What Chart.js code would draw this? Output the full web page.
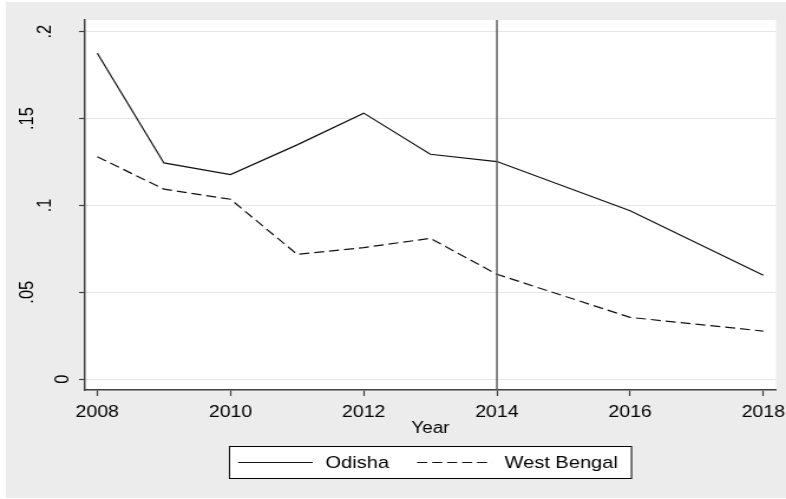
<!DOCTYPE html>
<html>
<head>
<meta charset="utf-8">
<script src="https://cdn.jsdelivr.net/npm/chart.js@4/dist/chart.umd.min.js"></script>
<style>
  html, body { margin: 0; padding: 0; background: #ffffff; overflow: hidden; }
  /* the graph is laid out narrower and widened to the page, giving the broad lettering */
  #wrap {
    position: absolute; left: 0; top: 0;
    width: 666px; height: 499px;
    transform: scaleX(1.18018); transform-origin: 0 0;
  }
</style>
</head>
<body>
<div id="wrap"><canvas id="chart"></canvas></div>
<script>
// Yearly values per state
const years = [2008, 2009, 2010, 2011, 2012, 2013, 2014, 2016, 2018];
const odisha = [0.1876, 0.1244, 0.1177, 0.1348, 0.1531, 0.1294, 0.1252, 0.0969, 0.0597];
const westBengal = [0.1280, 0.1093, 0.1035, 0.0718, 0.0757, 0.0810, 0.0603, 0.0355, 0.0276];
const seriesNames = ['Odisha', 'West Bengal'];

// Axes
const xTickValues = [2008, 2010, 2012, 2014, 2016, 2018];
const xTickLabels = ['2008', '2010', '2012', '2014', '2016', '2018'];
const yTickValues = [0, 0.05, 0.1, 0.15, 0.2];
const yTickLabels = ['0', '.05', '.1', '.15', '.2'];
const xAxisTitle = 'Year';
const markerYear = 2014;

const FONT = '"Liberation Sans", Arial, Helvetica, sans-serif';
const INK = '#000000';
const AXIS = '#404040';

const toPoints = (vals) => years.map((yr, i) => ({ x: yr, y: vals[i] }));

// Gray page with a white plot region
const backdrop = {
  id: 'backdrop',
  beforeDraw(chart) {
    const { ctx, width, height, chartArea: ca } = chart;
    ctx.save();
    ctx.fillStyle = '#ffffff';
    ctx.fillRect(0, 0, width, height);
    ctx.fillStyle = '#ececec';
    ctx.fillRect(5, 2, width - 5, height - 3);
    ctx.fillStyle = '#ffffff';
    ctx.fillRect(ca.left, ca.top, ca.right - ca.left, ca.bottom - ca.top);
    ctx.restore();
  }
};

// Vertical reference line at the marker year
const markerLine = {
  id: 'markerLine',
  afterDatasetsDraw(chart) {
    const { ctx, chartArea: ca, scales } = chart;
    const x = scales.x.getPixelForValue(markerYear);
    ctx.save();
    ctx.strokeStyle = '#555555';
    ctx.lineWidth = 1.4;
    ctx.beginPath();
    ctx.moveTo(x, ca.top);
    ctx.lineTo(x, ca.bottom);
    ctx.stroke();
    ctx.restore();
  }
};

// Vertical y tick labels, reading upward
const yLabels = {
  id: 'yLabels',
  afterDraw(chart) {
    const { ctx, scales } = chart;
    const y = scales.y;
    ctx.save();
    ctx.fillStyle = INK;
    ctx.font = '16.5px ' + FONT;
    ctx.textAlign = 'center';
    ctx.textBaseline = 'middle';
    y.ticks.forEach((t) => {
      const idx = yTickValues.indexOf(t.value);
      if (idx < 0) return;
      const label = yTickLabels[idx];
      const py = y.getPixelForValue(t.value);
      const px = 53.4 - 14.8 * (label.length - 1);
      ctx.save();
      ctx.translate(px, py);
      ctx.rotate(-Math.PI / 2);
      ctx.fillText(label, 0, 0);
      ctx.restore();
    });
    ctx.restore();
  }
};

// Boxed legend below the axis title
const boxedLegend = {
  id: 'boxedLegend',
  afterDraw(chart) {
    const { ctx, chartArea: ca } = chart;
    const cx = (ca.left + ca.right) / 2;
    const left = cx - 170.3, top = 446.5, w = 340.6, h = 32;
    const midY = top + h / 2;
    ctx.save();
    ctx.fillStyle = '#ffffff';
    ctx.fillRect(left, top, w, h);
    ctx.strokeStyle = '#000000';
    ctx.lineWidth = 1;
    ctx.strokeRect(left, top, w, h);
    const items = [
      { ds: chart.data.datasets[0], x0: 7.3, x1: 70.5, tx: 81.3 },
      { ds: chart.data.datasets[1], x0: 159.0, x1: 222.6, tx: 233.0 }
    ];
    ctx.font = '17px ' + FONT;
    ctx.textAlign = 'left';
    ctx.textBaseline = 'middle';
    items.forEach((it) => {
      ctx.strokeStyle = it.ds.borderColor;
      ctx.lineWidth = it.ds.borderWidth;
      ctx.setLineDash(it.ds.borderDash || []);
      ctx.beginPath();
      ctx.moveTo(left + it.x0, midY);
      ctx.lineTo(left + it.x1, midY);
      ctx.stroke();
      ctx.setLineDash([]);
      ctx.fillStyle = INK;
      ctx.fillText(it.ds.label, left + it.tx, midY + 0.5);
    });
    ctx.restore();
  }
};

new Chart(document.getElementById('chart'), {
  type: 'line',
  data: {
    datasets: [
      {
        label: seriesNames[0],
        data: toPoints(odisha),
        borderColor: '#111111',
        borderWidth: 1.2,
        pointRadius: 0,
        tension: 0,
        fill: false
      },
      {
        label: seriesNames[1],
        data: toPoints(westBengal),
        borderColor: '#111111',
        borderWidth: 1.2,
        borderDash: [8.5, 4.2],
        pointRadius: 0,
        tension: 0,
        fill: false
      }
    ]
  },
  options: {
    responsive: true,
    maintainAspectRatio: false,
    devicePixelRatio: 1,
    animation: false,
    layout: { autoPadding: false, padding: { left: 0, top: 20, right: 8.5, bottom: 59 } },
    plugins: {
      legend: { display: false },
      tooltip: { enabled: false }
    },
    scales: {
      x: {
        type: 'linear',
        min: 2007.815,
        max: 2018.19,
        afterBuildTicks: (scale) => { scale.ticks = xTickValues.map((v) => ({ value: v })); },
        afterFit: (scale) => { scale.height = 50; scale.paddingLeft = 0; scale.paddingRight = 0; },
        grid: {
          drawOnChartArea: false,
          drawTicks: true,
          tickLength: 6,
          tickColor: AXIS,
          tickWidth: 1.2
        },
        border: { display: true, color: AXIS, width: 1.5 },
        ticks: {
          autoSkip: false,
          maxRotation: 0,
          padding: 6.5,
          color: INK,
          font: { family: FONT, size: 16.5 },
          callback: (v) => xTickLabels[xTickValues.indexOf(v)]
        },
        title: {
          display: true,
          text: xAxisTitle,
          color: INK,
          font: { family: FONT, size: 16 },
          padding: { top: 0, bottom: 2 }
        }
      },
      y: {
        type: 'linear',
        min: -0.0063,
        max: 0.2067,
        afterBuildTicks: (scale) => { scale.ticks = yTickValues.map((v) => ({ value: v })); },
        afterFit: (scale) => { scale.width = 72; scale.paddingTop = 0; scale.paddingBottom = 0; },
        grid: {
          color: '#e6e6e6',
          lineWidth: 1,
          drawTicks: true,
          tickLength: 5.1,
          tickColor: AXIS,
          tickWidth: 1.2
        },
        border: { display: true, color: AXIS, width: 1.5 },
        ticks: { display: false }
      }
    }
  },
  plugins: [backdrop, markerLine, yLabels, boxedLegend]
});
</script>
</body>
</html>
